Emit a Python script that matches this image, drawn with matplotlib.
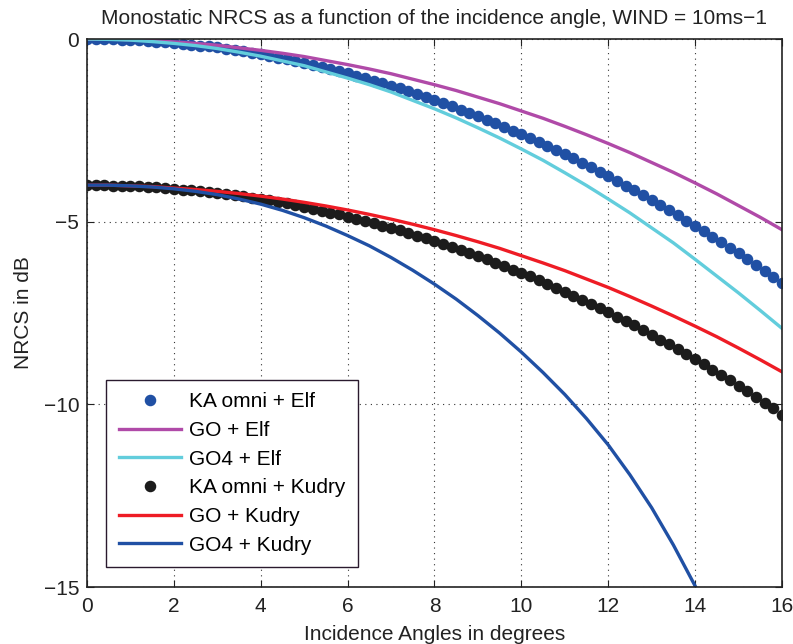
import matplotlib
matplotlib.use("Agg")
import matplotlib.pyplot as plt

plt.rcParams['font.family'] = ['Liberation Sans', 'DejaVu Sans']

# ---- data ----
theta_dots = [round(0.2 * i, 1) for i in range(81)]
ka_elf = [0.00, 0.00, 0.00, -0.01, -0.02, -0.03, -0.04, -0.05, -0.07, -0.08,
          -0.10, -0.13, -0.15, -0.18, -0.20, -0.23, -0.27, -0.30, -0.34, -0.38,
          -0.42, -0.46, -0.51, -0.55, -0.60, -0.65, -0.71, -0.76, -0.82, -0.88,
          -0.94, -1.00, -1.07, -1.14, -1.21, -1.28, -1.35, -1.43, -1.51, -1.59,
          -1.67, -1.75, -1.84, -1.93, -2.02, -2.11, -2.21, -2.31, -2.41, -2.51,
          -2.61, -2.72, -2.82, -2.93, -3.04, -3.16, -3.27, -3.39, -3.51, -3.63,
          -3.76, -3.88, -4.01, -4.14, -4.28, -4.41, -4.55, -4.69, -4.83, -4.97,
          -5.12, -5.26, -5.41, -5.56, -5.72, -5.87, -6.03, -6.19, -6.35, -6.52,
          -6.68]
ka_kudry = [-4.00, -4.00, -4.00, -4.01, -4.02, -4.02, -4.03, -4.05, -4.06, -4.08,
            -4.10, -4.12, -4.14, -4.16, -4.19, -4.21, -4.24, -4.28, -4.31, -4.34,
            -4.38, -4.42, -4.46, -4.50, -4.55, -4.60, -4.65, -4.70, -4.75, -4.80,
            -4.86, -4.92, -4.98, -5.04, -5.11, -5.17, -5.24, -5.31, -5.38, -5.46,
            -5.53, -5.61, -5.69, -5.77, -5.86, -5.94, -6.03, -6.12, -6.22, -6.31,
            -6.41, -6.50, -6.60, -6.71, -6.81, -6.92, -7.03, -7.14, -7.25, -7.36,
            -7.48, -7.60, -7.72, -7.84, -7.97, -8.10, -8.23, -8.36, -8.49, -8.63,
            -8.76, -8.90, -9.05, -9.19, -9.34, -9.49, -9.64, -9.79, -9.95, -10.10,
            -10.28]

theta_lines = [0.5 * i for i in range(33)]
go_elf = [0.00, -0.00, -0.02, -0.04, -0.08, -0.12, -0.17, -0.24, -0.31, -0.39,
          -0.48, -0.59, -0.70, -0.82, -0.95, -1.10, -1.25, -1.41, -1.59, -1.77,
          -1.97, -2.17, -2.39, -2.62, -2.86, -3.11, -3.38, -3.65, -3.94, -4.24,
          -4.56, -4.88, -5.22]
go4_elf = [0.00, -0.01, -0.03, -0.07, -0.12, -0.18, -0.26, -0.36, -0.47, -0.60,
           -0.73, -0.90, -1.07, -1.25, -1.45, -1.68, -1.91, -2.16, -2.43, -2.71,
           -3.01, -3.32, -3.66, -4.01, -4.38, -4.76, -5.17, -5.58, -6.03, -6.49,
           -6.95, -7.43, -7.92]
go_kudry = [-4.00, -4.00, -4.02, -4.04, -4.08, -4.12, -4.17, -4.23, -4.30, -4.38,
            -4.47, -4.57, -4.68, -4.80, -4.93, -5.07, -5.22, -5.38, -5.55, -5.73,
            -5.93, -6.13, -6.34, -6.57, -6.80, -7.05, -7.31, -7.58, -7.86, -8.15,
            -8.46, -8.78, -9.11]
go4_kudry = [-4.00, -4.00, -4.02, -4.05, -4.10, -4.17, -4.26, -4.38, -4.52, -4.69,
             -4.89, -5.12, -5.38, -5.66, -5.98, -6.33, -6.71, -7.12, -7.57, -8.05,
             -8.57, -9.13, -9.73, -10.39, -11.11, -11.93, -12.83, -13.85, -14.97, -16.19,
             -17.53, -19.00, -20.50]

labels = ["KA omni + Elf", "GO + Elf", "GO4 + Elf",
          "KA omni + Kudry", "GO + Kudry", "GO4 + Kudry"]
xticks = [0, 2, 4, 6, 8, 10, 12, 14, 16]
yticks = [-15, -10, -5, 0]

# ---- plot ----
fig = plt.figure(figsize=(7.93, 6.44), dpi=100)
ax = fig.add_axes([0.1097, 0.0885, 0.8764, 0.8509])

c_blue = '#2050a4'
c_mag = '#b04aa8'
c_cyan = '#62cddc'
c_black = '#1c1c1c'
c_red = '#ee1c25'
fs = 15

ax.plot(theta_dots, ka_elf, linestyle='none', marker='o', markersize=7.3,
        color=c_blue, markeredgecolor=c_blue, label=labels[0])
ax.plot(theta_lines, go_elf, color=c_mag, lw=2.4, label=labels[1])
ax.plot(theta_lines, go4_elf, color=c_cyan, lw=2.4, label=labels[2])
ax.plot(theta_dots, ka_kudry, linestyle='none', marker='o', markersize=7.3,
        color=c_black, markeredgecolor=c_black, label=labels[3])
ax.plot(theta_lines, go_kudry, color=c_red, lw=2.4, label=labels[4])
ax.plot(theta_lines, go4_kudry, color=c_blue, lw=2.4, label=labels[5])

ax.set_xlim(0, 16)
ax.set_ylim(-15, 0)
ax.set_xticks(xticks)
ax.set_yticks(yticks)
ax.set_xticklabels([str(v) for v in xticks])
ax.set_yticklabels([str(v).replace('-', '\u2212') for v in yticks])
ax.tick_params(direction='in', top=True, right=True, length=5, width=0.8,
               labelsize=fs, colors='#222222')
ax.tick_params(axis='x', pad=7)
ax.tick_params(axis='y', pad=5.5)
ax.grid(True, linestyle=(0, (1, 4)), color='#333333', linewidth=0.8)
for s in ax.spines.values():
    s.set_linewidth(1.2)
    s.set_color('#222222')

ax.set_title("Monostatic NRCS as a function of the incidence angle, WIND = 10ms\u22121",
             fontsize=fs, color='#222222', pad=11)
ax.set_xlabel("Incidence Angles in degrees", fontsize=fs, color='#222222', labelpad=6.5)
ax.set_ylabel("NRCS in dB", fontsize=fs, color='#222222', labelpad=7.5)

leg = ax.legend(loc='lower left', bbox_to_anchor=(0.028, 0.036), fontsize=fs,
                frameon=True, fancybox=False, framealpha=1, edgecolor='#2a1a2e',
                handlelength=3.0, labelspacing=0.465, borderpad=0.6,
                handletextpad=0.35, borderaxespad=0, numpoints=1)
leg.get_frame().set_linewidth(1.0)

fig.savefig("out.png", dpi=100)
